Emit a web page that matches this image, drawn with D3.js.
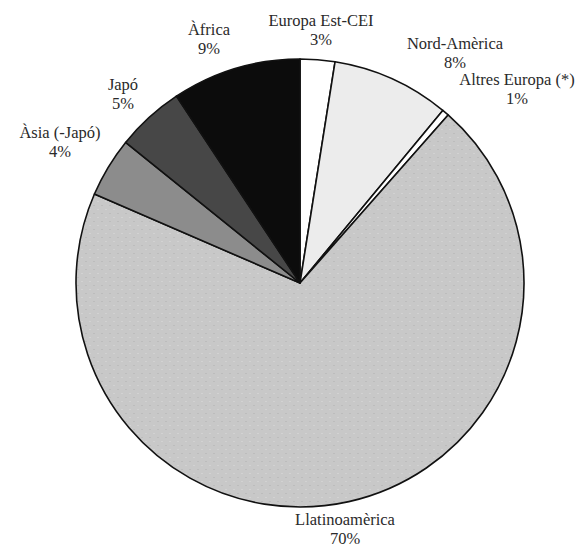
<!DOCTYPE html>
<html>
<head>
<meta charset="utf-8">
<script src="https://cdn.jsdelivr.net/npm/d3@7"></script>
<style>
  html, body { margin: 0; padding: 0; background: #fff; }
  svg { display: block; }
  text { font-family: "Liberation Serif", "DejaVu Serif", serif; fill: #2a2a2a; }
</style>
</head>
<body>
<svg id="chart" width="585" height="547"></svg>
<script>
const categories = ["Europa Est-CEI", "Nord-Amèrica", "Altres Europa (*)", "Llatinoamèrica", "Àsia (-Japó)", "Japó", "Àfrica"];
const values = [2.5, 8.5, 0.5, 70.0, 4.3, 4.9, 9.3];
const percentLabels = ["3%", "8%", "1%", "70%", "4%", "5%", "9%"];
const colors = ["#ffffff", "#ececec", "#ffffff", "#c8c8c8", "#8c8c8c", "#474747", "#0c0c0c"];
// label anchor (centre of first line baseline)
const labelPos = [[321, 26], [455, 49], [517, 85], [345, 525], [60, 138], [123, 90], [209, 35]];

const svg = d3.select("#chart");
const cx = 300, cy = 283, r = 224;

const data = categories.map((c, i) => ({ cat: c, value: values[i], pct: percentLabels[i], color: colors[i], pos: labelPos[i] }));

const pie = d3.pie().value(d => d.value).sort(null);
const arc = d3.arc().innerRadius(0).outerRadius(r);

const defs = svg.append("defs");
const pat = defs.append("pattern").attr("id", "tex").attr("width", 8).attr("height", 8).attr("patternUnits", "userSpaceOnUse");
pat.append("rect").attr("width", 8).attr("height", 8).attr("fill", "#c8c8c8");
pat.append("rect").attr("x", 1).attr("y", 2).attr("width", 2).attr("height", 1).attr("fill", "#bcbcbc");
pat.append("rect").attr("x", 5).attr("y", 6).attr("width", 2).attr("height", 1).attr("fill", "#d2d2d2");

const g = svg.append("g").attr("transform", `translate(${cx},${cy})`);
g.selectAll("path").data(pie(data)).enter().append("path")
  .attr("d", arc)
  .attr("fill", d => d.data.cat === "Llatinoamèrica" ? "url(#tex)" : d.data.color)
  .attr("stroke", "#111")
  .attr("stroke-width", 1.6)
  .attr("stroke-linejoin", "round");

const fs = 16.5;
const lineGap = 19;
const labels = svg.selectAll("text.lab").data(data).enter().append("text")
  .attr("class", "lab")
  .attr("text-anchor", "middle").attr("font-size", fs);
labels.append("tspan")
  .attr("x", d => d.pos[0]).attr("y", d => d.pos[1])
  .text(d => d.cat);
labels.append("tspan")
  .attr("x", d => d.pos[0]).attr("y", d => d.pos[1] + lineGap)
  .text(d => d.pct);
</script>
</body>
</html>
